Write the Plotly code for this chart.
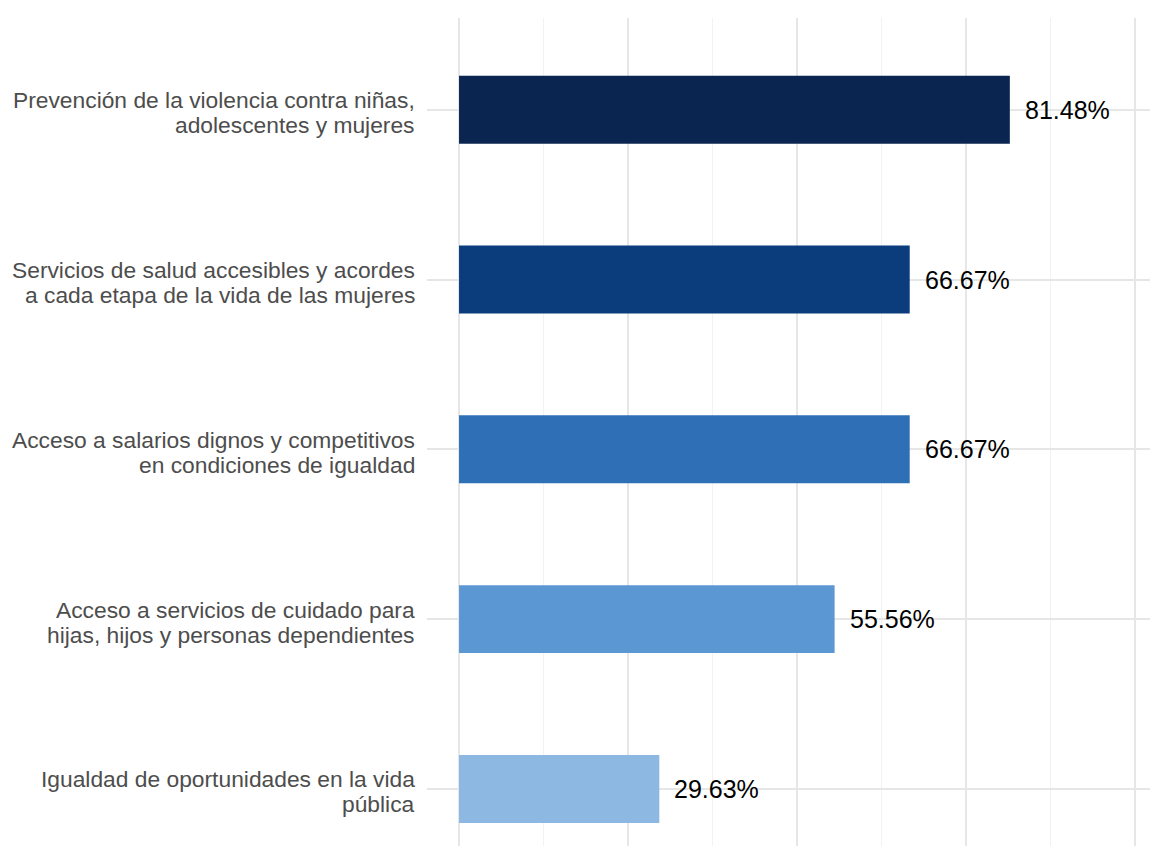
import plotly.graph_objects as go

categories = [
    "Igualdad de oportunidades en la vida<br>pública",
    "Acceso a servicios de cuidado para<br>hijas, hijos y personas dependientes",
    "Acceso a salarios dignos y competitivos<br>en condiciones de igualdad",
    "Servicios de salud accesibles y acordes<br>a cada etapa de la vida de las mujeres",
    "Prevención de la violencia contra niñas,<br>adolescentes y mujeres",
]
values = [29.63, 55.56, 66.67, 66.67, 81.48]
colors = ["#8cb8e2", "#5b97d3", "#2f6fb5", "#0b3c7c", "#0a254f"]
labels = [f"{v:.2f}%" for v in values]

FONT = "Liberation Sans, Arial, Helvetica, sans-serif"

fig = go.Figure()
fig.add_trace(go.Bar(
    x=values, y=categories, orientation="h",
    marker=dict(color=colors, line=dict(width=0)),
    width=0.4, hoverinfo="skip",
))

# value labels
for v, c, t in zip(values, categories, labels):
    fig.add_annotation(x=v, y=c, text=t, showarrow=False, xanchor="left",
                       xshift=13, font=dict(family=FONT, size=25, color="#000000"))

# category labels (drawn line by line for tighter line spacing)
for c in categories:
    lines = c.split("<br>")
    n = len(lines)
    for i, ln in enumerate(lines):
        shift = (n - 1) / 2 * 25 - i * 25 - 3
        fig.add_annotation(x=0, xref="paper", y=c, yref="y", text=ln, showarrow=False,
                           xanchor="right", yanchor="middle", xshift=-10, yshift=shift,
                           font=dict(family=FONT, size=22.8, color="#4d4d4d"))

fig.update_layout(
    width=1150, height=838,
    margin=dict(l=419, r=0, t=10, b=0),
    paper_bgcolor="white", plot_bgcolor="white",
    showlegend=False,
    font=dict(family=FONT, size=20, color="#4d4d4d"),
)
fig.update_xaxes(
    range=[-4.74, 103.4], tickvals=[0, 25, 50, 75, 100], showticklabels=False,
    showgrid=True, gridcolor="#e6e6e6", gridwidth=1.6, zeroline=False,
    minor=dict(tickvals=[12.5, 37.5, 62.5, 87.5], showgrid=True, gridcolor="#f2f2f2", gridwidth=1),
    showline=False, ticks="",
)
fig.update_yaxes(
    type="category", range=[-0.336, 4.54],
    showgrid=True, gridcolor="#e6e6e6", gridwidth=1.6, zeroline=False,
    showline=False, ticks="", showticklabels=False,
)

fig.write_html("out.html")
